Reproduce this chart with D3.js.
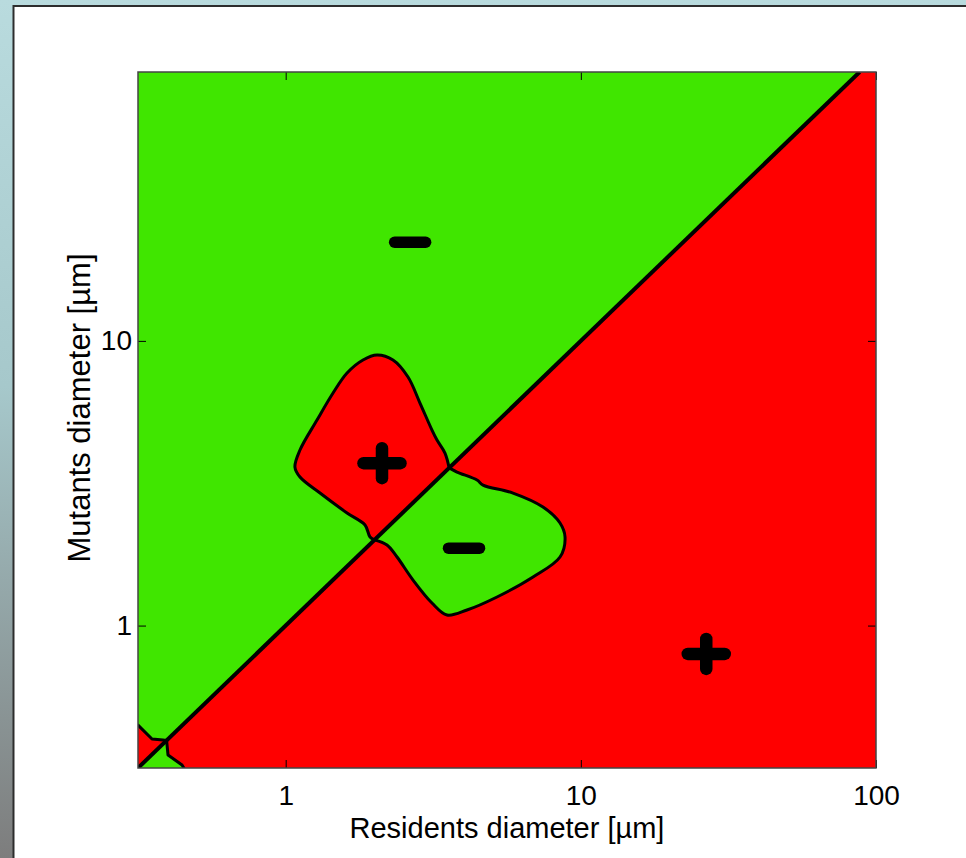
<!DOCTYPE html>
<html>
<head>
<meta charset="utf-8">
<script src="https://cdn.jsdelivr.net/npm/d3@7"></script>
<style>
  body { margin: 0; }
  svg { display: block; }
</style>
</head>
<body>
<svg width="966" height="858"></svg>
<script>
// axis ranges (diameters in micrometres)
const xDomain = [0.316, 100];
const yDomain = [0.316, 88];
const xTicks = [1, 10, 100];
const yTicks = [1, 10];

// contour lines, [resident, mutant] pairs
const redLobe = [
  [3.58, 3.58], [3.465, 4.037], [3.256, 4.484], [3.131, 4.862], [2.851, 6.049],
  [2.597, 7.464], [2.31, 8.565], [2.039, 8.918], [1.828, 8.565], [1.614, 7.71],
  [1.447, 6.559], [1.277, 5.272], [1.118, 4.136], [1.075, 3.605], [1.118, 3.325],
  [1.307, 2.921], [1.614, 2.486], [1.857, 2.256], [1.931, 2.047], [2.0, 2.0]
];
const greenLobe = [
  [2.0, 2.0], [2.204, 1.919], [2.384, 1.741], [2.701, 1.445], [3.131, 1.2],
  [3.52, 1.089], [4.115, 1.134], [5.2, 1.26], [6.887, 1.481], [8.501, 1.741],
  [8.84, 2.047], [8.501, 2.292], [7.443, 2.609], [5.891, 2.921], [4.663, 3.116],
  [4.449, 3.245], [3.806, 3.462], [3.58, 3.58]
];
const cornerRed = [[0.316, 0.447], [0.3525, 0.3995], [0.384, 0.396], [0.395, 0.395]];
const cornerGreen = [[0.395, 0.395], [0.3994, 0.351], [0.4455, 0.3237], [0.452, 0.316]];

// invasion fitness signs
const signs = [
  { sign: '-', res: 2.64, mut: 22.2 },
  { sign: '+', res: 2.12, mut: 3.72 },
  { sign: '-', res: 4.02, mut: 1.87 },
  { sign: '+', res: 26.6, mut: 0.795 }
];

const green = '#40e600';
const red = '#ff0000';

const svg = d3.select('svg');
const width = +svg.attr('width');
const height = +svg.attr('height');

// window background + white figure
const defs = svg.append('defs');
const grad = defs.append('linearGradient').attr('id', 'bg')
    .attr('x1', 0).attr('y1', 0).attr('x2', 0).attr('y2', 1);
grad.append('stop').attr('offset', 0).attr('stop-color', '#b9dbde');
grad.append('stop').attr('offset', 0.45).attr('stop-color', '#a6c8cb');
grad.append('stop').attr('offset', 1).attr('stop-color', '#7d7d7d');
svg.append('rect').attr('width', width).attr('height', height).attr('fill', 'url(#bg)');
svg.append('rect').attr('x', 12.5).attr('y', 5).attr('width', width).attr('height', height)
    .attr('fill', '#2d2d2d');
svg.append('rect').attr('x', 14.5).attr('y', 7).attr('width', width).attr('height', height)
    .attr('fill', '#ffffff');

const pLeft = 138, pRight = 876, pTop = 72, pBottom = 768;

const x = d3.scaleLog().domain(xDomain).range([pLeft, pRight]);
const y = d3.scaleLog().domain(yDomain).range([pBottom, pTop]);

defs.append('clipPath').attr('id', 'plot')
  .append('rect').attr('x', pLeft).attr('y', pTop)
    .attr('width', pRight - pLeft).attr('height', pBottom - pTop);

const g = svg.append('g').attr('clip-path', 'url(#plot)');
const line = d3.line().x(d => x(d[0])).y(d => y(d[1]));
const curve = d3.line().x(d => x(d[0])).y(d => y(d[1])).curve(d3.curveCatmullRom.alpha(0.5));
const cornerPt = () => `L${x(xDomain[0])},${y(yDomain[0])}`;

// green above the diagonal, red below
g.append('rect').attr('x', pLeft).attr('y', pTop)
    .attr('width', pRight - pLeft).attr('height', pBottom - pTop).attr('fill', green);
const lowerRight = [
  [xDomain[0], yDomain[0]], [xDomain[1], yDomain[0]],
  [xDomain[1], yDomain[1]], [yDomain[1], yDomain[1]]
];
g.append('path').attr('d', line(lowerRight) + 'Z').attr('fill', red);

g.append('path').attr('d', curve(redLobe) + 'Z').attr('fill', red);
g.append('path').attr('d', curve(greenLobe) + 'Z').attr('fill', green);
g.append('path').attr('d', line(cornerRed) + cornerPt() + 'Z').attr('fill', red);
g.append('path').attr('d', line(cornerGreen) + cornerPt() + 'Z').attr('fill', green);

// boundaries
[[redLobe, curve], [greenLobe, curve], [cornerRed, line], [cornerGreen, line]].forEach(([c, gen]) => {
  g.append('path').attr('d', gen(c))
    .attr('fill', 'none').attr('stroke', '#000').attr('stroke-width', 3)
    .attr('stroke-linejoin', 'round').attr('stroke-linecap', 'round');
});
g.append('path')
    .attr('d', line([[xDomain[0], xDomain[0]], [yDomain[1], yDomain[1]]]))
    .attr('stroke', '#000').attr('stroke-width', 4);

// + and - marks
const marks = svg.append('g').attr('stroke', '#000').attr('stroke-linecap', 'round');
signs.forEach(s => {
  const cx = x(s.res), cy = y(s.mut);
  if (s.sign === '-') {
    marks.append('line').attr('x1', cx - 15.5).attr('x2', cx + 15.5)
      .attr('y1', cy).attr('y2', cy).attr('stroke-width', 11.5);
  } else {
    marks.append('line').attr('x1', cx - 18.5).attr('x2', cx + 18.5)
      .attr('y1', cy).attr('y2', cy).attr('stroke-width', 12.5);
    marks.append('line').attr('x1', cx).attr('x2', cx)
      .attr('y1', cy - 15).attr('y2', cy + 15).attr('stroke-width', 12.5);
  }
});

// axes, MATLAB style: ticks inside, box all around
const font = '"Liberation Sans", Arial, Helvetica, sans-serif';
const axisStyle = sel => {
  sel.select('.domain').remove();
  sel.selectAll('line').attr('stroke', '#000').attr('stroke-width', 1);
  sel.selectAll('text').attr('font-family', font).attr('font-size', 28).attr('fill', '#000');
};

svg.append('g').attr('transform', `translate(0,${pBottom})`)
    .call(d3.axisBottom(x).tickValues(xTicks).tickFormat(d3.format('d'))
      .tickSizeInner(-8).tickSizeOuter(0).tickPadding(17))
    .call(axisStyle);
svg.append('g').attr('transform', `translate(0,${pTop})`)
    .call(d3.axisTop(x).tickValues(xTicks).tickFormat('').tickSizeInner(-8).tickSizeOuter(0))
    .call(axisStyle);
svg.append('g').attr('transform', `translate(${pLeft},0)`)
    .call(d3.axisLeft(y).tickValues(yTicks).tickFormat(d3.format('d'))
      .tickSizeInner(-8).tickSizeOuter(0).tickPadding(6))
    .call(axisStyle);
svg.append('g').attr('transform', `translate(${pRight},0)`)
    .call(d3.axisRight(y).tickValues(yTicks).tickFormat('').tickSizeInner(-8).tickSizeOuter(0))
    .call(axisStyle);

svg.append('rect').attr('x', pLeft).attr('y', pTop)
    .attr('width', pRight - pLeft).attr('height', pBottom - pTop)
    .attr('fill', 'none').attr('stroke', '#444').attr('stroke-width', 1.5);

svg.append('text')
    .attr('x', (pLeft + pRight) / 2).attr('y', 838)
    .attr('text-anchor', 'middle')
    .attr('font-family', font).attr('font-size', 29)
    .text('Residents diameter [\u00b5m]');

svg.append('text')
    .attr('transform', `translate(90,${(pTop + pBottom) / 2 - 12}) rotate(-90)`)
    .attr('text-anchor', 'middle')
    .attr('font-family', font).attr('font-size', 31)
    .text('Mutants diameter [\u00b5m]');
</script>
</body>
</html>
